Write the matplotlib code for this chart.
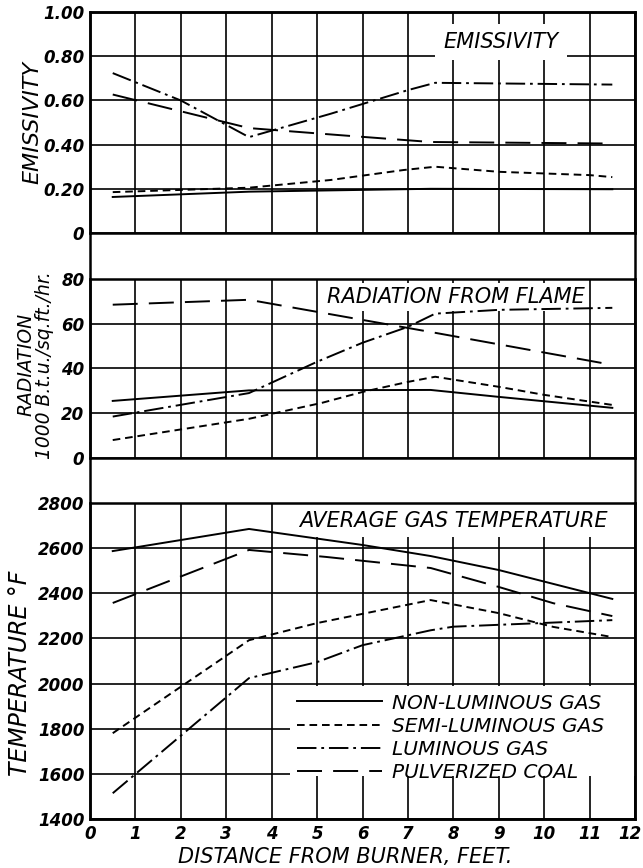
# Flame emissivity / radiation / temperature vs distance from burner

import matplotlib
matplotlib.use("Agg")
import matplotlib.pyplot as plt
import matplotlib.transforms as mtransforms
from matplotlib.patches import Rectangle

plt.rcParams['font.family'] = ['DejaVu Sans']
plt.rcParams['lines.scale_dashes'] = False

# --- data ---
series_names = ["NON-LUMINOUS GAS", "SEMI-LUMINOUS GAS", "LUMINOUS GAS", "PULVERIZED COAL"]

# emissivity
emis_nonlum_x = [0.5, 3.5, 7.5, 11.5]
emis_nonlum_y = [0.163, 0.187, 0.200, 0.198]
emis_semi_x = [0.5, 3.5, 5.3, 6.9, 7.6, 9.0, 11.0, 11.5]
emis_semi_y = [0.185, 0.205, 0.240, 0.285, 0.300, 0.277, 0.262, 0.253]
emis_lum_x = [0.5, 2.0, 3.5, 5.3, 7.0, 7.6, 11.5]
emis_lum_y = [0.724, 0.600, 0.434, 0.540, 0.647, 0.680, 0.672]
emis_coal_x = [0.5, 3.5, 5.5, 7.5, 11.5]
emis_coal_y = [0.627, 0.475, 0.443, 0.412, 0.405]

# radiation, 1000 Btu/sq.ft/hr
rad_nonlum_x = [0.5, 3.5, 7.5, 9.0, 11.5]
rad_nonlum_y = [25.5, 30.2, 30.4, 27.3, 22.4]
rad_semi_x = [0.5, 3.5, 5.1, 6.0, 7.0, 7.6, 9.0, 10.0, 11.5]
rad_semi_y = [8.0, 17.5, 24.6, 29.5, 34.0, 36.3, 31.8, 28.2, 23.7]
rad_lum_x = [0.5, 3.5, 5.0, 6.0, 7.0, 7.6, 9.0, 11.5]
rad_lum_y = [18.5, 29.0, 43.0, 51.5, 58.6, 64.5, 66.2, 67.1]
rad_coal_x = [0.5, 3.5, 7.5, 11.5]
rad_coal_y = [68.5, 70.7, 56.3, 41.6]

# average gas temperature, deg F
temp_nonlum_x = [0.5, 3.5, 6.0, 7.5, 9.0, 11.5]
temp_nonlum_y = [2587, 2685, 2614, 2565, 2503, 2375]
temp_semi_x = [0.5, 3.5, 5.0, 7.5, 9.0, 10.2, 11.5]
temp_semi_y = [1780, 2192, 2268, 2370, 2312, 2251, 2206]
temp_lum_x = [0.5, 3.5, 5.0, 6.0, 7.5, 8.0, 11.5]
temp_lum_y = [1514, 2024, 2095, 2170, 2236, 2252, 2281]
temp_coal_x = [0.5, 3.5, 5.2, 7.5, 9.0, 10.2, 11.5]
temp_coal_y = [2357, 2592, 2561, 2512, 2428, 2356, 2299]

x_ticks = list(range(0, 13))
emis_ticks = [0, 0.2, 0.4, 0.6, 0.8, 1.0]
emis_labels = ["0", "0.20", "0.40", "0.60", "0.80", "1.00"]
rad_ticks = [0, 20, 40, 60, 80]
temp_ticks = [1400, 1600, 1800, 2000, 2200, 2400, 2600, 2800]

# line styles (dash patterns in points)
styles = [
    dict(linestyle="-"),
    dict(linestyle=(0, (5.5, 3.5))),
    dict(linestyle=(0, (14, 3.5, 2, 3.5))),
    dict(linestyle=(0, (18, 8))),
]
lw = 1.4
tick_font = dict(fontsize=12, fontweight="bold", fontstyle="italic")
title_font = dict(fontsize=15, fontstyle="italic")
box = dict(facecolor="white", edgecolor="none", pad=3)

fig = plt.figure(figsize=(6.43, 8.68), dpi=100)
left, right = 0.14, 0.9876
ax1 = fig.add_axes([left, 0.7316, right - left, 0.986 - 0.7316])
ax2 = fig.add_axes([left, 0.4724, right - left, 0.6786 - 0.4724])
ax3 = fig.add_axes([left, 0.0565, right - left, 0.4205 - 0.0565])

# outer frame running through the gaps
fig.add_artist(Rectangle((left, 0.0565), right - left, 0.986 - 0.0565, transform=fig.transFigure,
                         fill=False, edgecolor="black", linewidth=1.8))


def style_axes(ax, yticks, ylabels, ylim):
    ax.set_xlim(0, 12)
    ax.set_ylim(*ylim)
    ax.set_xticks(x_ticks)
    ax.set_yticks(yticks)
    ax.set_yticklabels(ylabels, **tick_font)
    ax.tick_params(length=0, pad=4)
    ax.grid(True, color="black", linewidth=1.2)
    ax.set_axisbelow(True)
    for sp in ax.spines.values():
        sp.set_linewidth(1.8)


def draw(ax, xs, ys):
    lines = []
    for x, y, st in zip(xs, ys, styles):
        ln, = ax.plot(x, y, color="black", linewidth=lw, **st)
        lines.append(ln)
    return lines


# emissivity panel
style_axes(ax1, emis_ticks, emis_labels, (0, 1.0))
ax1.set_xticklabels([])
draw(ax1, [emis_nonlum_x, emis_semi_x, emis_lum_x, emis_coal_x],
     [emis_nonlum_y, emis_semi_y, emis_lum_y, emis_coal_y])
ax1.text(9.05, 0.865, "EMISSIVITY", ha="center", va="center", zorder=1.9, **title_font,
         bbox=dict(facecolor="white", edgecolor="none", pad=6))
ax1.set_ylabel("EMISSIVITY", fontsize=16, fontstyle="italic")
ax1.yaxis.set_label_coords(-0.088, 0.5)

# radiation panel
style_axes(ax2, rad_ticks, [str(t) for t in rad_ticks], (0, 80))
ax2.set_xticklabels([])
draw(ax2, [rad_nonlum_x, rad_semi_x, rad_lum_x, rad_coal_x],
     [rad_nonlum_y, rad_semi_y, rad_lum_y, rad_coal_y])
ax2.text(8.05, 72.0, "RADIATION FROM FLAME", ha="center", va="center", zorder=1.9, **title_font,
         bbox=box)
ax2.set_ylabel("RADIATION\n1000 B.t.u./sq.ft./hr.", fontsize=13.5, fontstyle="italic", linespacing=1.0)
ax2.yaxis.set_label_coords(-0.066, 0.52)

# temperature panel
style_axes(ax3, temp_ticks, [str(t) for t in temp_ticks], (1400, 2800))
ax3.set_xticklabels([str(t) for t in x_ticks], **tick_font)
# nudge the last tick label so it stays inside the picture
last = ax3.get_xticklabels()[-1]
last.set_transform(last.get_transform() + mtransforms.ScaledTranslation(-4 / 72, 0, fig.dpi_scale_trans))
lines = draw(ax3, [temp_nonlum_x, temp_semi_x, temp_lum_x, temp_coal_x],
             [temp_nonlum_y, temp_semi_y, temp_lum_y, temp_coal_y])
ax3.text(8.0, 2722, "AVERAGE GAS TEMPERATURE", ha="center", va="center", zorder=1.9, **title_font,
         bbox=dict(facecolor="white", edgecolor="none", pad=5))
ax3.set_ylabel("TEMPERATURE °F", fontsize=17, fontstyle="italic")
ax3.yaxis.set_label_coords(-0.106, 0.46)
ax3.set_xlabel("DISTANCE FROM BURNER, FEET.", fontsize=15, fontstyle="italic", labelpad=1)
ax3.xaxis.set_label_coords(0.468, -0.088)

# white block behind the legend hides the grid there
ax3.add_patch(Rectangle((0.367, 0.136), 0.633, 0.284, transform=ax3.transAxes,
                        facecolor="white", edgecolor="none", zorder=1.8))
leg = ax3.legend(lines, series_names, loc="upper left", bbox_to_anchor=(0.38, 0.397),
                 frameon=False, prop=dict(size=14.5, style="italic"), handlelength=4.2,
                 handletextpad=0.5, labelspacing=0.2, borderpad=0, borderaxespad=0)
leg.set_zorder(5)

fig.savefig("out.png", dpi=100)
